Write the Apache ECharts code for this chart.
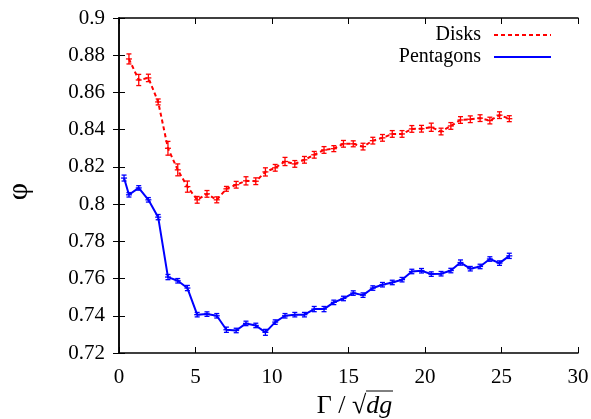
<!DOCTYPE html>
<html>
<head>
<meta charset="utf-8">
<script src="https://cdn.jsdelivr.net/npm/echarts@6/dist/echarts.min.js"></script>
<style>
  html, body {margin: 0; padding: 0; background: #fff;}
  #chart {width: 591px; height: 419px;}
</style>
</head>
<body>
<div id="chart"></div>
<script>
  const serif = 'Liberation Serif';

  // x positions (Gamma / sqrt(dg))
  const diskX = [0.65, 1.29, 1.92, 2.56, 3.2, 3.84, 4.47, 5.11, 5.75, 6.39,
    7.02, 7.66, 8.3, 8.94, 9.57, 10.21, 10.85, 11.49, 12.12, 12.76,
    13.4, 14.04, 14.67, 15.31, 15.95, 16.59, 17.22, 17.86, 18.5, 19.14,
    19.77, 20.41, 21.05, 21.69, 22.32, 22.96, 23.6, 24.24, 24.87, 25.51];
  const diskPhi = [0.878, 0.8667, 0.8678, 0.8549, 0.830, 0.8184, 0.8094, 0.8023, 0.8055, 0.8023,
    0.8082, 0.8104, 0.8125, 0.8123, 0.8173, 0.8195, 0.8229, 0.8216, 0.8238, 0.8265,
    0.8291, 0.8298, 0.8324, 0.8324, 0.8309, 0.8341, 0.8356, 0.8377, 0.8377, 0.8404,
    0.8405, 0.8413, 0.839, 0.842, 0.8452, 0.8456, 0.8462, 0.8449, 0.8478, 0.8459];
  const diskErr = [0.0027, 0.003, 0.002, 0.0016, 0.0037, 0.0032, 0.003, 0.0018, 0.0018, 0.0016,
    0.0013, 0.0018, 0.0022, 0.0018, 0.0022, 0.0018, 0.0022, 0.0018, 0.0018, 0.0018,
    0.0018, 0.0016, 0.0018, 0.0016, 0.0018, 0.0018, 0.0018, 0.0018, 0.0018, 0.0018,
    0.0018, 0.0022, 0.0018, 0.0018, 0.0018, 0.0018, 0.0018, 0.0018, 0.0018, 0.0016];

  const pentX = [0.33, 0.65, 1.29, 1.92, 2.56, 3.2, 3.84, 4.47, 5.11, 5.75, 6.39,
    7.02, 7.66, 8.3, 8.94, 9.57, 10.21, 10.85, 11.49, 12.12, 12.76,
    13.4, 14.04, 14.67, 15.31, 15.95, 16.59, 17.22, 17.86, 18.5, 19.14,
    19.77, 20.41, 21.05, 21.69, 22.32, 22.96, 23.6, 24.24, 24.87, 25.51];
  const pentPhi = [0.814, 0.805, 0.8087, 0.8023, 0.793, 0.7608, 0.7588, 0.7549, 0.7406, 0.7409,
    0.74, 0.7325, 0.7321, 0.7359, 0.7348, 0.7311, 0.7366, 0.74, 0.7406, 0.7406,
    0.7436, 0.7436, 0.7472, 0.7493, 0.7522, 0.7511, 0.7549, 0.7567, 0.7579, 0.7594,
    0.7638, 0.7642, 0.7624, 0.7626, 0.7643, 0.7686, 0.7653, 0.7665, 0.7705, 0.7683, 0.7722];
  const pentErr = [0.0016, 0.0012, 0.0012, 0.0012, 0.0014, 0.0014, 0.0012, 0.0014, 0.0012, 0.0012,
    0.0012, 0.0014, 0.0012, 0.0012, 0.0012, 0.0016, 0.0012, 0.0012, 0.0012, 0.0012,
    0.0014, 0.0014, 0.0012, 0.0012, 0.0012, 0.0012, 0.0012, 0.0012, 0.0012, 0.0012,
    0.0012, 0.0012, 0.0012, 0.0012, 0.0012, 0.0014, 0.0012, 0.0012, 0.0012, 0.0012, 0.0014];

  const xTicks = {min: 0, max: 30, interval: 5};
  const yTicks = {min: 0.72, max: 0.9, interval: 0.02};

  const zip = (xs, ys, es) => xs.map((x, i) => es ? [x, ys[i], es[i]] : [x, ys[i]]);

  function errorBars(color) {
    return function (params, api) {
      const x = api.value(0), y = api.value(1), e = api.value(2);
      const c = api.coord([x, y]);
      const hi = api.coord([x, y + e]);
      const lo = api.coord([x, y - e]);
      const st = {stroke: color, lineWidth: 1.3};
      return {
        type: 'group',
        children: [
          {type: 'line', shape: {x1: c[0], y1: hi[1], x2: c[0], y2: lo[1]}, style: st},
          {type: 'line', shape: {x1: c[0] - 2.5, y1: hi[1], x2: c[0] + 2.5, y2: hi[1]}, style: st},
          {type: 'line', shape: {x1: c[0] - 2.5, y1: lo[1], x2: c[0] + 2.5, y2: lo[1]}, style: st},
          {type: 'line', shape: {x1: c[0] - 3, y1: c[1], x2: c[0] + 3, y2: c[1]}, style: st}
        ]
      };
    };
  }

  const axisLine = {show: true, lineStyle: {color: '#000', width: 1.5}};
  const tick = {show: true, inside: true, length: 6, lineStyle: {color: '#000', width: 1}};
  const label = {color: '#000', fontFamily: serif, fontSize: 21};

  const chart = echarts.init(document.getElementById('chart'));
  chart.setOption({
    animation: false,
    backgroundColor: '#fff',
    textStyle: {fontFamily: serif},
    grid: {left: 119, right: 13, top: 18, bottom: 66, outerBoundsMode: 'none'},
    legend: {
      data: ['Disks', 'Pentagons'],
      orient: 'vertical',
      right: 39,
      top: 25,
      padding: 0,
      align: 'right',
      itemWidth: 57,
      itemHeight: 10,
      itemGap: 2,
      itemStyle: {opacity: 0},
      textStyle: {color: '#000', fontFamily: serif, fontSize: 20, padding: [0, 8, 0, 0]}
    },
    graphic: [
      // overbar of the square root in the x axis title
      {type: 'line', shape: {x1: 366, y1: 391, x2: 393, y2: 391}, style: {stroke: '#000', lineWidth: 1}}
    ],
    xAxis: [
      {
        type: 'value', position: 'bottom', ...xTicks,
        axisLine, axisTick: tick, splitLine: {show: false},
        axisLabel: {...label, margin: 14},
        name: '{a|Γ / √}{b|dg}',
        nameLocation: 'middle',
        nameGap: 34,
        nameTextStyle: {
          padding: [0, 0, 0, 12],
          rich: {
            a: {fontFamily: serif, fontSize: 26, color: '#000'},
            b: {fontFamily: serif, fontSize: 26, fontStyle: 'italic', color: '#000'}
          }
        }
      },
      {
        type: 'value', position: 'top', ...xTicks,
        axisLine, axisTick: tick, splitLine: {show: false},
        axisLabel: {show: false}
      }
    ],
    yAxis: [
      {
        type: 'value', position: 'left', ...yTicks,
        axisLine, axisTick: tick, splitLine: {show: false},
        axisLabel: {...label, margin: 14},
        name: 'φ',
        nameLocation: 'middle',
        nameGap: 85,
        nameTextStyle: {fontFamily: serif, fontSize: 30, color: '#000', padding: [0, 12, 0, 0]}
      },
      {
        type: 'value', position: 'right', ...yTicks,
        axisLine, axisTick: tick, splitLine: {show: false},
        axisLabel: {show: false}
      }
    ],
    series: [
      {
        name: 'Disks', type: 'line', symbol: 'none',
        data: zip(diskX, diskPhi),
        itemStyle: {color: '#ff0000'},
        lineStyle: {color: '#ff0000', width: 2, type: [4, 3]}
      },
      {
        name: 'Pentagons', type: 'line', symbol: 'none',
        data: zip(pentX, pentPhi),
        itemStyle: {color: '#0000ff'},
        lineStyle: {color: '#0000ff', width: 2}
      },
      {
        type: 'custom', renderItem: errorBars('#ff0000'),
        data: zip(diskX, diskPhi, diskErr), encode: {x: 0, y: 1}, z: 3
      },
      {
        type: 'custom', renderItem: errorBars('#0000ff'),
        data: zip(pentX, pentPhi, pentErr), encode: {x: 0, y: 1}, z: 3
      }
    ]
  });
</script>
</body>
</html>
